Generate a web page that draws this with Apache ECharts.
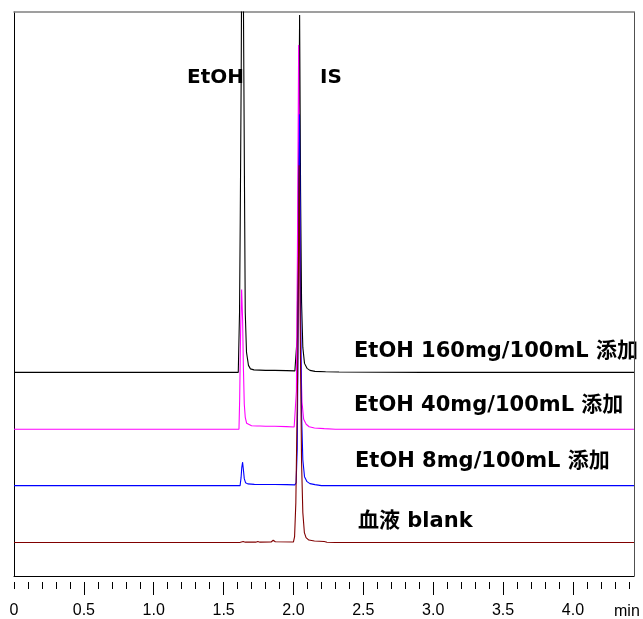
<!DOCTYPE html>
<html>
<head>
<meta charset="utf-8">
<script src="https://cdn.jsdelivr.net/npm/echarts@6.0.0/dist/echarts.min.js"></script>
<style>
  html, body { margin: 0; padding: 0; background: #fff; }
  #chart { width: 643px; height: 619px; }
</style>
</head>
<body>
<div id="chart"></div>
<script>
// 保持時間 (min) と信号強度 (ベースラインからの高さ)
var trace160 = [[0,0],[1.040,0],[1.050,0.8],[1.060,0],[1.260,0],[1.270,0.7],[1.280,0],[1.605,0],[1.609,2],[1.614,60],[1.619,150],[1.626,300],[1.634,560],[1.644,320],[1.651,150],[1.655,60],[1.664,20],[1.678,7],[1.692,3.5],[1.717,2.5],[1.800,2],[1.840,2],[1.853,3.2],[1.866,2],[1.950,1.7],[2.010,1.5],[2.019,3],[2.027,36],[2.034,160],[2.044,358],[2.051,180],[2.058,70],[2.067,25],[2.079,9],[2.097,4],[2.118,2],[2.154,1],[2.230,0.6],[2.326,0.4],[2.340,0],[2.930,0],[2.940,0.8],[2.950,0],[4.437,0]];
var trace40 = [[0,0],[1.040,0],[1.050,0.6],[1.060,0],[1.610,0],[1.615,30],[1.622,100],[1.629,140],[1.636,110],[1.642,60],[1.648,25],[1.655,12],[1.665,6],[1.677,4.2],[1.700,3.5],[1.740,3.2],[1.750,3.8],[1.760,3.2],[1.800,3],[1.840,3],[1.853,4.2],[1.866,3],[1.950,2.6],[2.005,2.3],[2.013,4],[2.021,38],[2.028,170],[2.037,385],[2.045,190],[2.052,75],[2.061,27],[2.073,10],[2.091,5],[2.112,2.5],[2.150,1.2],[2.220,0.6],[2.300,0],[4.437,0]];
var trace8 = [[0,0],[1.040,0],[1.050,0.8],[1.060,0],[1.260,0],[1.270,0.4],[1.280,0],[1.618,0],[1.625,8],[1.630,18],[1.636,23.5],[1.641,17],[1.648,7],[1.657,3],[1.673,1.8],[1.720,1.3],[1.840,1.2],[1.853,2.3],[1.866,1.2],[1.950,1],[2.010,0.8],[2.019,3],[2.027,37],[2.034,165],[2.043,372],[2.051,185],[2.058,72],[2.067,26],[2.079,9],[2.097,4],[2.118,2],[2.154,1],[2.200,0],[4.437,0]];
var traceBlank = [[0,0],[1.040,0],[1.050,0.8],[1.060,0],[1.260,0],[1.270,0.6],[1.280,0],[1.615,0],[1.625,1],[1.640,1],[1.655,0.4],[1.730,0.4],[1.745,1],[1.760,0.4],[1.840,0.6],[1.855,2.3],[1.870,0.8],[2.000,0.6],[2.008,6],[2.017,40],[2.030,170],[2.041,378],[2.050,190],[2.058,80],[2.067,30],[2.078,10],[2.090,5],[2.110,2.5],[2.150,1.5],[2.220,1],[2.240,0.3],[2.300,0],[2.930,0],[2.940,0.8],[2.950,0],[4.437,0]];

var traceNames = ['EtOH 160mg/100mL 添加', 'EtOH 40mg/100mL 添加', 'EtOH 8mg/100mL 添加', '血液 blank'];
var traceColors = ['#000000', '#ff00ff', '#0000ff', '#800000'];
var traceOffsets = [204, 147, 90.5, 33.5];   // 重ね書きのずらし量
var traces = [trace160, trace40, trace8, traceBlank];

var majorTicks = [0.5, 1.0, 1.5, 2.0, 2.5, 3.0, 3.5, 4.0];
var minorTicks = [0, 0.1, 0.2, 0.3, 0.4, 0.6, 0.7, 0.8, 0.9, 1.1, 1.2, 1.3, 1.4, 1.6, 1.7, 1.8, 1.9,
                  2.1, 2.2, 2.3, 2.4, 2.6, 2.7, 2.8, 2.9, 3.1, 3.2, 3.3, 3.4, 3.6, 3.7, 3.8, 3.9, 4.1, 4.2, 4.3, 4.4];
var tickLabels = [0, 0.5, 1.0, 1.5, 2.0, 2.5, 3.0, 3.5, 4.0];

var xMin = 0, xMax = 4.437;
var yMin = 0, yMax = 565;

var chart = echarts.init(document.getElementById('chart'));

var series = traces.map(function (t, i) {
    return {
        name: traceNames[i],
        type: 'line',
        symbol: 'none',
        clip: true,
        lineStyle: { color: traceColors[i], width: 1.1 },
        data: t.map(function (p) { return [p[0], p[1] + traceOffsets[i]]; })
    };
});

var hidden = { show: false };
var peakFont = 'bold 20px "DejaVu Sans", "Noto Sans CJK JP", sans-serif';
var labelFont = 'bold 21px "DejaVu Sans", "Noto Sans CJK JP", sans-serif';

var option = {
    animation: false,
    backgroundColor: '#ffffff',
    grid: { left: 14, top: 12, right: 9, bottom: 42 },
    xAxis: [
        {   // 下枠
            type: 'value', min: xMin, max: xMax,
            axisLine: { show: true, onZero: false, lineStyle: { color: '#000', width: 1 } },
            axisTick: hidden, axisLabel: hidden, splitLine: hidden
        },
        {   // 上枠
            type: 'value', min: xMin, max: xMax, position: 'top',
            axisLine: { show: true, onZero: false, lineStyle: { color: '#808080', width: 1.5 } },
            axisTick: hidden, axisLabel: hidden, splitLine: hidden
        },
        {   // 目盛 (大)
            type: 'value', min: xMin, max: xMax, position: 'bottom', offset: 6,
            axisLine: { show: false, onZero: false }, splitLine: hidden,
            axisTick: { show: true, length: 13, customValues: majorTicks, lineStyle: { color: '#000' } },
            axisLabel: {
                show: true, margin: 21, customValues: tickLabels,
                color: '#000', fontSize: 16, fontFamily: '"Liberation Sans", Arial, sans-serif',
                formatter: function (v) { return v === 0 ? '0' : v.toFixed(1); }
            }
        },
        {   // 目盛 (小)
            type: 'value', min: xMin, max: xMax, position: 'bottom', offset: 6,
            axisLine: { show: false, onZero: false }, splitLine: hidden, axisLabel: hidden,
            axisTick: { show: true, length: 7, customValues: minorTicks, lineStyle: { color: '#000' } }
        }
    ],
    yAxis: [
        {
            type: 'value', min: yMin, max: yMax,
            axisLine: { show: true, onZero: false, lineStyle: { color: '#000', width: 1 } },
            axisTick: hidden, axisLabel: hidden, splitLine: hidden
        },
        {
            type: 'value', min: yMin, max: yMax, position: 'right',
            axisLine: { show: true, onZero: false, lineStyle: { color: '#505050', width: 1 } },
            axisTick: hidden, axisLabel: hidden, splitLine: hidden
        }
    ],
    graphic: [
        { type: 'text', x: 187, y: 78, style: { text: 'EtOH', font: peakFont, fill: '#000', textVerticalAlign: 'middle' } },
        { type: 'text', x: 320, y: 78, style: { text: 'IS', font: peakFont, fill: '#000', textVerticalAlign: 'middle' } },
        { type: 'text', x: 354, y: 352, style: { text: traceNames[0], font: labelFont, fill: '#000', textVerticalAlign: 'middle' } },
        { type: 'text', x: 354, y: 406, style: { text: traceNames[1], font: labelFont, fill: '#000', textVerticalAlign: 'middle' } },
        { type: 'text', x: 355, y: 462, style: { text: traceNames[2], font: labelFont, fill: '#000', textVerticalAlign: 'middle' } },
        { type: 'text', x: 358, y: 522, style: { text: traceNames[3], font: labelFont, fill: '#000', textVerticalAlign: 'middle' } },
        { type: 'text', x: 614, y: 604, style: { text: 'min', font: '16px "Liberation Sans", Arial, sans-serif', fill: '#000', textVerticalAlign: 'top' } }
    ],
    series: series
};

chart.setOption(option, true);
</script>
</body>
</html>
